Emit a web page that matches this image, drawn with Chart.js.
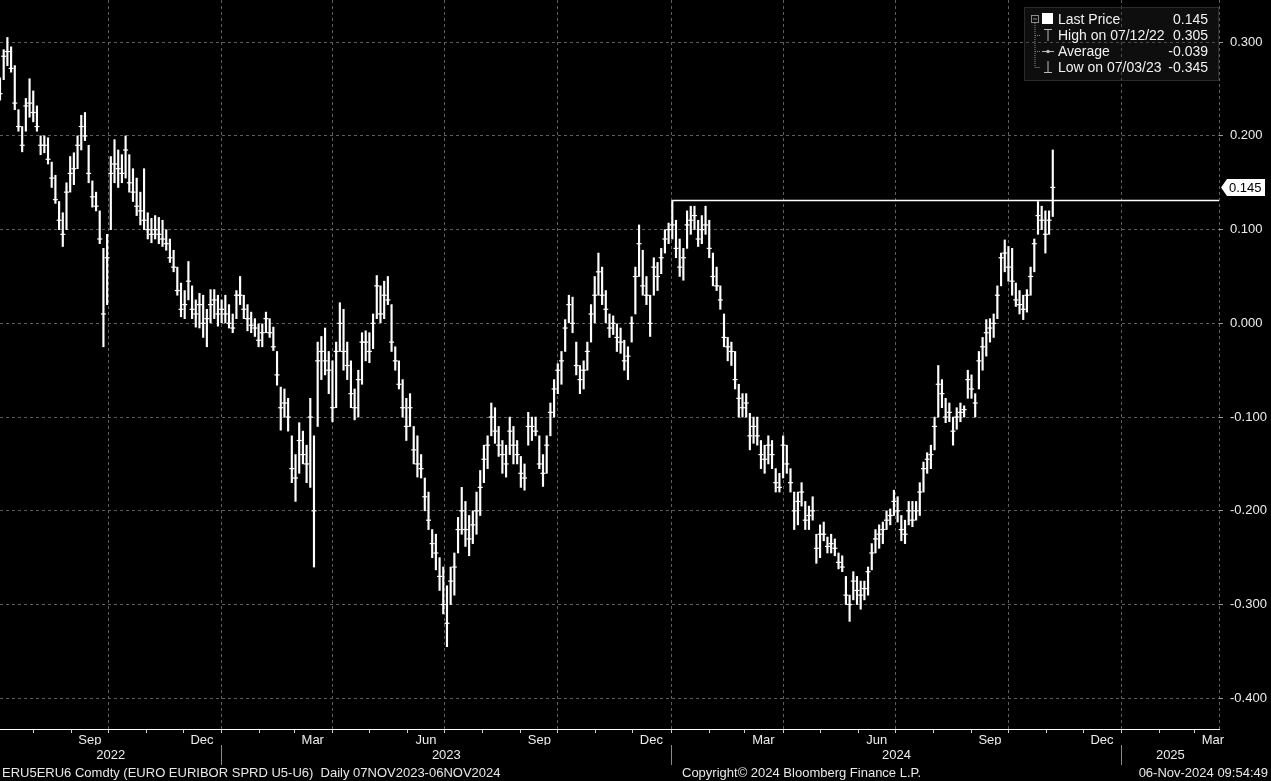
<!DOCTYPE html>
<html>
<head>
<meta charset="utf-8">
<script src="https://cdn.jsdelivr.net/npm/chart.js@4.4.1/dist/chart.umd.min.js"></script>
<style>
  body { margin: 0; background: #000; width: 1271px; height: 781px; overflow: hidden; position: relative;
         font-family: "Liberation Sans", Arial, sans-serif; }
  #chart { position: absolute; left: 0; top: 0; }
  .foot { position: absolute; top: 765px; font-size: 13px; line-height: 16px; color: #e8e8e8; white-space: pre; }
  #legend { position: absolute; left: 1024px; top: 7px; width: 195px; height: 74px;
            background: rgba(40,40,40,0.35); border: 1px solid #2a2a2a; box-sizing: border-box; }
  #legend svg { position: absolute; left: 0; top: 0; }
  #legend .row { position: absolute; left: 33px; right: 10px; height: 16px; line-height: 16px;
                 font-size: 14px; color: #f2f2f2; }
  #legend .row span.v { position: absolute; right: 0; top: 0; }
</style>
</head>
<body>
<canvas id="chart" width="1271" height="767"></canvas>

<div id="legend">
  <svg width="32" height="74" viewBox="0 0 32 74">
    <rect x="6.5" y="7.5" width="7" height="7" fill="none" stroke="#8a8a8a"/>
    <line x1="8" y1="11" x2="12" y2="11" stroke="#8a8a8a"/>
    <path d="M10 15 V59.5 H15 M10 27.5 H15 M10 43.5 H15" stroke="#8a8a8a" stroke-dasharray="1 1" fill="none"/>
    <rect x="17" y="5" width="11" height="11" fill="#fff"/>
    <path d="M19 21.5 H27 M23 21.5 V33" stroke="#bbb" fill="none"/>
    <path d="M17 43.5 H29" stroke="#bbb"/>
    <circle cx="23" cy="43.5" r="1.8" fill="#bbb"/>
    <path d="M19 64.5 H27 M23 53 V64.5" stroke="#bbb" fill="none"/>
  </svg>
  <div class="row" style="top:3px"><span>Last Price</span><span class="v" id="lgLast"></span></div>
  <div class="row" style="top:19px"><span id="lgHighTxt"></span><span class="v" id="lgHigh"></span></div>
  <div class="row" style="top:35px"><span>Average</span><span class="v" id="lgAvg"></span></div>
  <div class="row" style="top:51px"><span id="lgLowTxt"></span><span class="v" id="lgLow"></span></div>
</div>

<div class="foot" style="left:2px">ERU5ERU6 Comdty (EURO EURIBOR SPRD U5-U6)  Daily 07NOV2023-06NOV2024</div>
<div class="foot" style="left:682px">Copyright&copy; 2024 Bloomberg Finance L.P.</div>
<div class="foot" style="right:3px">06-Nov-2024 09:54:49</div>

<script>
// one bar every 3 calendar days, first bar 05-Jul-2022, last bar 06-Nov-2024
var firstBar = '2022-07-05';
var barStepDays = 3;

var highs = [
  0.262, 0.292, 0.305, 0.295, 0.275, 0.228, 0.210, 0.240, 0.261, 0.248,
  0.232, 0.200, 0.200, 0.198, 0.172, 0.158, 0.130, 0.118, 0.150, 0.178,
  0.182, 0.200, 0.222, 0.225, 0.190, 0.152, 0.140, 0.120, 0.080, 0.095,
  0.178, 0.196, 0.185, 0.180, 0.200, 0.180, 0.165, 0.155, 0.140, 0.165,
  0.118, 0.112, 0.115, 0.113, 0.110, 0.100, 0.090, 0.078, 0.060, 0.043,
  0.035, 0.066, 0.040, 0.025, 0.032, 0.030, 0.015, 0.036, 0.036, 0.030,
  0.025, 0.030, 0.020, 0.010, 0.035, 0.050, 0.030, 0.020, 0.012, 0.005,
  0.000, 0.000, 0.012, 0.005, -0.004, -0.030, -0.068, -0.070, -0.080, -0.120,
  -0.140, -0.106, -0.115, -0.130, -0.080, -0.120, -0.020, -0.014, -0.005, -0.030,
  -0.040, -0.020, 0.022, 0.015, -0.020, -0.040, -0.070, -0.050, -0.010, -0.008,
  -0.010, 0.010, 0.051, 0.040, 0.045, 0.050, 0.020, -0.025, -0.040, -0.060,
  -0.080, -0.075, -0.110, -0.120, -0.140, -0.165, -0.180, -0.220, -0.225, -0.250,
  -0.260, -0.280, -0.260, -0.245, -0.207, -0.175, -0.190, -0.205, -0.200, -0.180,
  -0.157, -0.130, -0.120, -0.085, -0.090, -0.110, -0.125, -0.130, -0.100, -0.110,
  -0.125, -0.142, -0.150, -0.095, -0.100, -0.100, -0.120, -0.140, -0.120, -0.085,
  -0.060, -0.043, -0.030, 0.004, 0.030, 0.028, -0.020, -0.045, -0.040, -0.020,
  0.020, 0.050, 0.075, 0.060, 0.035, 0.010, 0.008, 0.000, -0.005, -0.018,
  -0.025, 0.007, 0.060, 0.105, 0.078, 0.050, 0.030, 0.070, 0.065, 0.080,
  0.100, 0.107, 0.131, 0.110, 0.090, 0.080, 0.120, 0.125, 0.125, 0.110,
  0.115, 0.125, 0.110, 0.075, 0.060, 0.040, 0.010, -0.015, -0.020, -0.030,
  -0.065, -0.075, -0.075, -0.096, -0.100, -0.100, -0.125, -0.130, -0.120, -0.125,
  -0.155, -0.160, -0.120, -0.130, -0.155, -0.180, -0.180, -0.170, -0.190, -0.195,
  -0.185, -0.225, -0.215, -0.212, -0.228, -0.225, -0.230, -0.245, -0.248, -0.270,
  -0.290, -0.265, -0.270, -0.275, -0.275, -0.260, -0.235, -0.220, -0.215, -0.212,
  -0.200, -0.198, -0.178, -0.185, -0.205, -0.210, -0.190, -0.190, -0.190, -0.170,
  -0.148, -0.138, -0.130, -0.100, -0.045, -0.060, -0.080, -0.085, -0.100, -0.090,
  -0.085, -0.088, -0.050, -0.055, -0.075, -0.030, -0.015, 0.004, 0.005, 0.010,
  0.040, 0.075, 0.089, 0.082, 0.080, 0.043, 0.035, 0.030, 0.036, 0.060,
  0.090, 0.130, 0.125, 0.120, 0.120, 0.185
];

var lows = [
  0.238, 0.260, 0.275, 0.268, 0.228, 0.205, 0.183, 0.205, 0.220, 0.215,
  0.205, 0.180, 0.182, 0.170, 0.145, 0.128, 0.100, 0.082, 0.100, 0.140,
  0.148, 0.165, 0.185, 0.195, 0.150, 0.124, 0.120, 0.085, -0.025, 0.020,
  0.100, 0.150, 0.145, 0.150, 0.155, 0.140, 0.130, 0.115, 0.105, 0.100,
  0.090, 0.086, 0.090, 0.085, 0.082, 0.078, 0.065, 0.055, 0.030, 0.007,
  0.005, 0.025, 0.005, -0.004, -0.005, -0.015, -0.025, 0.000, 0.005, -0.003,
  0.000, 0.000, -0.005, -0.010, 0.005, 0.020, 0.005, -0.008, -0.010, -0.014,
  -0.025, -0.025, -0.010, -0.015, -0.029, -0.066, -0.114, -0.100, -0.115, -0.170,
  -0.190, -0.160, -0.150, -0.170, -0.175, -0.260, -0.110, -0.060, -0.055, -0.075,
  -0.105, -0.090, -0.030, -0.050, -0.060, -0.090, -0.103, -0.100, -0.065, -0.040,
  -0.042, -0.027, 0.005, 0.000, 0.005, 0.020, -0.030, -0.050, -0.070, -0.100,
  -0.125, -0.110, -0.150, -0.164, -0.165, -0.200, -0.220, -0.250, -0.263, -0.285,
  -0.310, -0.345, -0.300, -0.290, -0.245, -0.225, -0.238, -0.248, -0.235, -0.225,
  -0.205, -0.170, -0.155, -0.120, -0.128, -0.142, -0.160, -0.164, -0.140, -0.150,
  -0.150, -0.175, -0.178, -0.130, -0.125, -0.120, -0.155, -0.174, -0.160, -0.120,
  -0.100, -0.075, -0.065, -0.030, 0.000, -0.010, -0.055, -0.075, -0.070, -0.050,
  -0.020, 0.000, 0.030, 0.020, 0.000, -0.015, -0.012, -0.030, -0.032, -0.050,
  -0.060, -0.020, 0.010, 0.050, 0.030, 0.020, -0.014, 0.030, 0.035, 0.053,
  0.075, 0.085, 0.090, 0.070, 0.050, 0.046, 0.080, 0.095, 0.100, 0.082,
  0.085, 0.095, 0.070, 0.040, 0.035, 0.015, -0.025, -0.040, -0.045, -0.070,
  -0.100, -0.100, -0.100, -0.135, -0.128, -0.130, -0.155, -0.160, -0.150, -0.155,
  -0.180, -0.180, -0.165, -0.160, -0.180, -0.220, -0.215, -0.195, -0.220, -0.220,
  -0.210, -0.256, -0.250, -0.232, -0.245, -0.245, -0.248, -0.262, -0.265, -0.300,
  -0.318, -0.295, -0.300, -0.305, -0.295, -0.290, -0.263, -0.245, -0.240, -0.235,
  -0.220, -0.215, -0.205, -0.212, -0.232, -0.235, -0.215, -0.217, -0.210, -0.205,
  -0.180, -0.160, -0.155, -0.135, -0.100, -0.090, -0.106, -0.105, -0.130, -0.113,
  -0.105, -0.100, -0.080, -0.080, -0.100, -0.070, -0.050, -0.035, -0.020, -0.015,
  0.005, 0.040, 0.055, 0.045, 0.030, 0.018, 0.010, 0.004, 0.012, 0.030,
  0.055, 0.095, 0.100, 0.075, 0.095, 0.114
];

var closes = [
  0.245, 0.285, 0.290, 0.272, 0.235, 0.210, 0.190, 0.232, 0.235, 0.225,
  0.210, 0.190, 0.190, 0.175, 0.155, 0.132, 0.110, 0.095, 0.140, 0.160,
  0.165, 0.190, 0.210, 0.200, 0.160, 0.135, 0.125, 0.090, 0.010, 0.070,
  0.160, 0.170, 0.165, 0.160, 0.185, 0.150, 0.140, 0.125, 0.120, 0.110,
  0.100, 0.095, 0.100, 0.095, 0.090, 0.085, 0.070, 0.060, 0.035, 0.015,
  0.020, 0.045, 0.015, 0.010, 0.020, 0.000, 0.005, 0.020, 0.025, 0.010,
  0.015, 0.010, 0.000, -0.005, 0.030, 0.030, 0.015, 0.005, -0.002, -0.005,
  -0.018, -0.010, 0.005, -0.010, -0.025, -0.055, -0.090, -0.085, -0.100, -0.155,
  -0.165, -0.125, -0.140, -0.150, -0.100, -0.200, -0.040, -0.030, -0.040, -0.050,
  -0.090, -0.030, 0.000, -0.030, -0.045, -0.075, -0.090, -0.060, -0.020, -0.020,
  -0.030, 0.000, 0.040, 0.010, 0.030, 0.025, -0.020, -0.040, -0.065, -0.090,
  -0.110, -0.090, -0.135, -0.150, -0.155, -0.185, -0.210, -0.235, -0.245, -0.270,
  -0.300, -0.320, -0.275, -0.260, -0.220, -0.200, -0.220, -0.230, -0.215, -0.200,
  -0.175, -0.145, -0.130, -0.100, -0.115, -0.130, -0.140, -0.150, -0.115, -0.130,
  -0.140, -0.160, -0.165, -0.110, -0.110, -0.115, -0.150, -0.160, -0.130, -0.095,
  -0.070, -0.050, -0.040, -0.005, 0.020, 0.000, -0.045, -0.060, -0.050, -0.030,
  0.010, 0.030, 0.055, 0.030, 0.015, -0.005, 0.000, -0.015, -0.020, -0.040,
  -0.035, 0.000, 0.050, 0.085, 0.040, 0.030, 0.000, 0.060, 0.050, 0.070,
  0.090, 0.100, 0.105, 0.080, 0.060, 0.070, 0.105, 0.110, 0.115, 0.090,
  0.100, 0.105, 0.080, 0.050, 0.040, 0.025, -0.015, -0.025, -0.030, -0.060,
  -0.080, -0.090, -0.085, -0.120, -0.110, -0.120, -0.140, -0.145, -0.130, -0.140,
  -0.170, -0.175, -0.130, -0.150, -0.170, -0.200, -0.190, -0.180, -0.210, -0.205,
  -0.200, -0.240, -0.225, -0.225, -0.238, -0.235, -0.240, -0.255, -0.260, -0.290,
  -0.300, -0.275, -0.285, -0.290, -0.283, -0.265, -0.245, -0.230, -0.225, -0.220,
  -0.210, -0.205, -0.190, -0.200, -0.220, -0.225, -0.200, -0.210, -0.200, -0.180,
  -0.155, -0.145, -0.140, -0.110, -0.065, -0.075, -0.100, -0.095, -0.115, -0.100,
  -0.095, -0.092, -0.060, -0.070, -0.085, -0.040, -0.025, -0.010, -0.005, 0.000,
  0.030, 0.070, 0.075, 0.060, 0.045, 0.025, 0.020, 0.015, 0.030, 0.050,
  0.085, 0.115, 0.110, 0.095, 0.110, 0.145
];

// horizontal level drawn from the early-January 2024 high
var levelValue = 0.131;
var levelFrom = '2024-01-02';

var axisStart = '2022-07-05';
var axisEnd = '2025-03-21';
var yMin = -0.4328, yMax = 0.345;
var yTicks = [0.3, 0.2, 0.1, 0, -0.1, -0.2, -0.3, -0.4];
var monthNames = ['Jan', 'Feb', 'Mar', 'Apr', 'May', 'Jun', 'Jul', 'Aug', 'Sep', 'Oct', 'Nov', 'Dec'];
var labelledMonths = ['Mar', 'Jun', 'Sep', 'Dec'];
var gridMonths = ['Jan', 'Apr', 'Jul', 'Oct'];
var years = [2022, 2023, 2024, 2025];

var highDate = '07/12/22', lowDate = '07/03/23';
var averageValue = -0.039;

var family = '"Liberation Sans", Arial, sans-serif';
Chart.defaults.font.family = family;
Chart.defaults.font.size = 13;
Chart.defaults.color = '#ececec';

function dayOf(s) {
    return Math.round((Date.parse(s) - Date.parse('2022-07-01')) / 864e5);
}
function pad2(n) { return (n < 10 ? '0' : '') + n; }
function noPad(s) { s.paddingLeft = 0; s.paddingRight = 0; s.paddingTop = 0; s.paddingBottom = 0; }

var xMin = dayOf(axisStart), xMax = dayOf(axisEnd);
var d0 = dayOf(firstBar);

var rangeData = [], closeData = [];
for (var i = 0; i < highs.length; i++) {
    var d = d0 + i * barStepDays;
    rangeData.push({ x: d, y: [lows[i], highs[i]] });
    closeData.push({ x: d, y: closes[i] });
}

// month start ticks
var monthTicks = [];
years.forEach(function (yr) {
    for (var m = 1; m <= 12; m++) {
        var d = dayOf(yr + '-' + pad2(m) + '-01');
        if (d >= xMin && d <= xMax) monthTicks.push({ value: d, name: monthNames[m - 1] });
    }
});
var gridTicks = monthTicks.filter(function (t) { return gridMonths.indexOf(t.name) >= 0; })
    .map(function (t) { return { value: t.value }; });
gridTicks.push({ value: xMax });

// year labels centred in the visible part of each year, separators at year starts
var yearTicks = [];
years.forEach(function (yr) {
    var a = Math.max(dayOf(yr + '-01-01'), xMin);
    var b = Math.min(dayOf((yr + 1) + '-01-01'), xMax);
    if (yr > years[0]) yearTicks.push({ value: dayOf(yr + '-01-01'), label: '' });
    yearTicks.push({ value: (a + b) / 2, label: String(yr) });
});
yearTicks.sort(function (p, q) { return p.value - q.value; });

var pxPerDay = 1219 / (xMax - xMin);

document.getElementById('lgLast').textContent = closes[closes.length - 1].toFixed(3);
document.getElementById('lgHighTxt').textContent = 'High on ' + highDate;
document.getElementById('lgHigh').textContent = Math.max.apply(null, highs).toFixed(3);
document.getElementById('lgAvg').textContent = averageValue.toFixed(3);
document.getElementById('lgLowTxt').textContent = 'Low on ' + lowDate;
document.getElementById('lgLow').textContent = Math.min.apply(null, lows).toFixed(3);

var lastTag = {
    id: 'lastTag',
    afterDraw: function (chart) {
        var ctx = chart.ctx, area = chart.chartArea;
        var v = closes[closes.length - 1];
        var py = Math.round(chart.scales.y.getPixelForValue(v)) + 0.5;
        var x0 = area.right + 2;
        ctx.save();
        ctx.fillStyle = '#fff';
        ctx.beginPath();
        ctx.moveTo(x0, py);
        ctx.lineTo(x0 + 6, py - 8.5);
        ctx.lineTo(x0 + 44, py - 8.5);
        ctx.lineTo(x0 + 44, py + 8.5);
        ctx.lineTo(x0 + 6, py + 8.5);
        ctx.closePath();
        ctx.fill();
        ctx.fillStyle = '#000';
        ctx.font = '13px ' + family;
        ctx.textBaseline = 'middle';
        ctx.textAlign = 'left';
        ctx.fillText(v.toFixed(3), x0 + 8, py + 0.5);
        ctx.restore();
    }
};

var gridGray = '#5e5e5e';

new Chart(document.getElementById('chart'), {
    type: 'bar',
    data: {
        datasets: [{
            type: 'line',
            data: [{ x: dayOf(levelFrom), y: levelValue }, { x: xMax, y: levelValue }],
            borderColor: '#fff',
            borderWidth: 1.5,
            pointRadius: 0,
            xAxisID: 'x', yAxisID: 'y'
        }, {
            type: 'scatter',
            data: closeData,
            pointStyle: 'line',
            pointRadius: 2.5,
            pointBorderWidth: 1.2,
            pointBorderColor: '#fff',
            pointBackgroundColor: '#fff',
            xAxisID: 'x', yAxisID: 'y'
        }, {
            type: 'bar',
            data: rangeData,
            backgroundColor: '#fff',
            borderWidth: 0,
            barThickness: 1.5,
            xAxisID: 'x', yAxisID: 'y'
        }]
    },
    plugins: [lastTag],
    options: {
        responsive: false,
        animation: false,
        devicePixelRatio: 1,
        events: [],
        layout: { padding: 0, autoPadding: false },
        plugins: { legend: { display: false }, tooltip: { enabled: false } },
        scales: {
            x: {
                type: 'linear', position: 'bottom', weight: 0,
                min: xMin, max: xMax, offset: false,
                afterBuildTicks: function (s) { s.ticks = monthTicks.map(function (t) { return { value: t.value }; }); },
                afterFit: function (s) { s.height = 16; noPad(s); },
                ticks: {
                    autoSkip: false, maxRotation: 0, padding: 0,
                    labelOffset: pxPerDay * 15,
                    color: '#ececec',
                    callback: function (v, idx) {
                        var n = monthTicks[idx] ? monthTicks[idx].name : '';
                        return labelledMonths.indexOf(n) >= 0 ? n : '';
                    }
                },
                grid: { offset: false, drawOnChartArea: false, drawTicks: true, tickLength: 4, color: '#d0d0d0' },
                border: { display: true, color: '#ffffff', width: 1 }
            },
            xq: {
                type: 'linear', position: 'bottom', weight: 1,
                min: xMin, max: xMax, offset: false,
                afterBuildTicks: function (s) { s.ticks = gridTicks.slice(); },
                afterFit: function (s) { s.height = 0; noPad(s); },
                ticks: { display: false },
                grid: { offset: false, drawOnChartArea: true, drawTicks: false, color: gridGray },
                border: { display: false, dash: [3, 3] }
            },
            xy: {
                type: 'linear', position: 'bottom', weight: 2,
                min: xMin, max: xMax, offset: false,
                afterBuildTicks: function (s) { s.ticks = yearTicks.map(function (t) { return { value: t.value }; }); },
                afterFit: function (s) { s.height = 22; noPad(s); },
                ticks: {
                    autoSkip: false, maxRotation: 0, padding: -17, color: '#ececec',
                    callback: function (v, idx) { return yearTicks[idx] ? yearTicks[idx].label : ''; }
                },
                grid: {
                    offset: false, drawOnChartArea: false, drawTicks: true, tickLength: 20,
                    color: function (c) { return (yearTicks[c.index] && yearTicks[c.index].label === '') ? '#8a8a8a' : 'rgba(0,0,0,0)'; }
                },
                border: { display: false }
            },
            y: {
                type: 'linear', position: 'right',
                min: yMin, max: yMax,
                afterBuildTicks: function (s) { s.ticks = yTicks.map(function (v) { return { value: v }; }); },
                afterFit: function (s) { s.width = 52; noPad(s); },
                ticks: {
                    padding: 7, color: '#ececec',
                    callback: function (v) { return v.toFixed(3); }
                },
                grid: { color: gridGray, drawTicks: true, tickLength: 4, tickColor: '#9a9a9a' },
                border: { display: false, dash: [3, 3] }
            }
        }
    }
});
</script>
</body>
</html>
